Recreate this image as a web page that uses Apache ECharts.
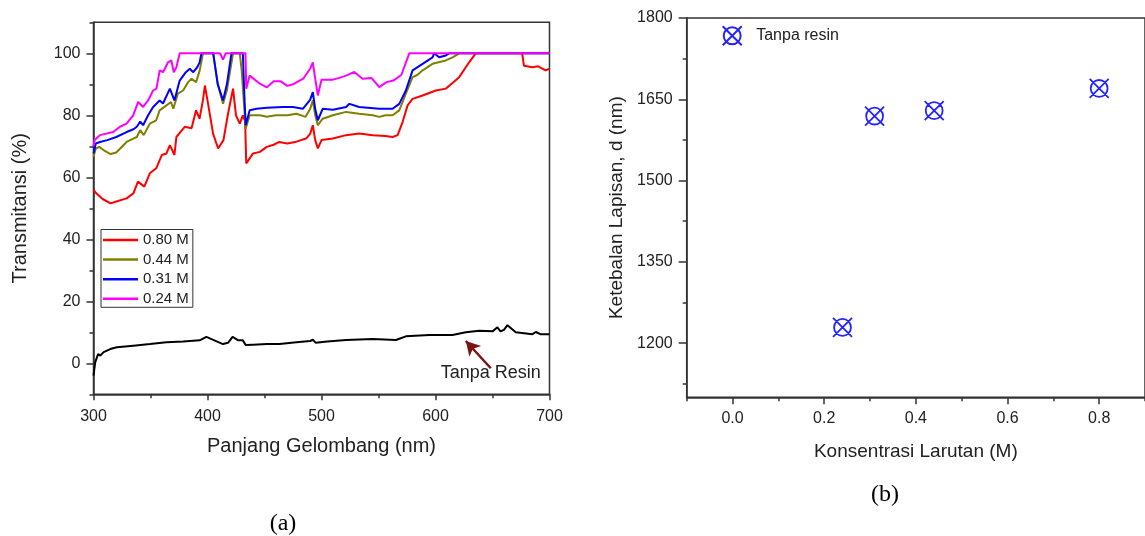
<!DOCTYPE html>
<html><head><meta charset="utf-8">
<script src="https://cdn.jsdelivr.net/npm/echarts@6/dist/echarts.min.js"></script>
<style>html,body{margin:0;padding:0;background:#fff}#c{width:1145px;height:536px}</style>
</head><body><div id="c"></div>
<script>
// ---------- Data: panel (a) transmittance spectra [wavelength nm, %T] ----------
const seriesNamesA = ['0.80 M', '0.44 M', '0.31 M', '0.24 M'];
const red080 = [[300,56],[302,55],[308,53],[315,51.6],[320,52.2],[329,53.2],[335,54.8],[339,58.6],[344.6,57],[349.4,61.3],[355,62.9],[360,67.2],[364,67.7],[367,70.4],[371,67.2],[372.7,73],[376,74.5],[380,76.3],[386,75.8],[390,81.6],[393,78.9],[396,84.8],[397.7,89.6],[400,84.8],[404.9,74.1],[409.3,69.3],[414,72],[418,80.5],[422.4,88.6],[425,80],[428.3,77.3],[431,80],[433,78],[434,64.5],[440,67.7],[446,68.2],[452,69.8],[458,70.5],[463,71.4],[470,70.9],[478,71.5],[486.5,72.5],[490,74],[492.4,76.8],[494.5,72],[496.8,69.3],[500,72],[510,72.5],[521.6,73.6],[533,74.1],[545,73.6],[556,73.3],[562.4,73],[566.8,73.6],[571.2,77.9],[575.5,83.2],[579.9,85.3],[588.7,86.4],[600.3,88],[609,88.6],[620.8,92.3],[629.5,97.1],[635.3,100],[676,100],[677.6,96],[685,95.5],[690,95.8],[696.6,94.5],[700,95]];
const olive044 = [[300,66.6],[302,69.3],[305,69.8],[310,68.5],[315,67.5],[320,68],[329,71.4],[335,72.5],[338,73],[341,75.2],[344,73.6],[349.4,77.3],[355,78.4],[358,81.6],[364,83.2],[368,84.3],[370,82.1],[374,87],[378.6,88],[383,90.7],[386,91.8],[390,90.7],[393.2,94.5],[396,100],[405,100],[409,90],[413.6,83.7],[417,88],[422.4,100],[428.3,100],[430,94.5],[433.5,75.7],[437,80],[446,80],[452,79.5],[460,80],[470,80],[478,80.5],[486,79.5],[490,82],[492.4,84.8],[494.5,80],[496.8,76.8],[501,78.9],[510,80],[521.6,81.1],[533,80.5],[545,80],[550.7,79.5],[556,80],[562.4,80],[568.2,81.6],[574,87],[579.9,92.3],[584,93],[588.7,94.5],[597.4,96.6],[609,97.7],[615,98.7],[620.8,100],[700,100]];
const blue031 = [[300,67.7],[302,70.9],[305.7,71.4],[312,72],[320,73],[329,74.6],[335,75.5],[338,76.3],[341,78],[343.5,76.8],[347.9,80],[352.3,82.7],[358,84.8],[361,83.8],[367,88.6],[371,84.8],[375.6,91.2],[381,93.9],[384.5,95],[387.5,93.9],[391,95.5],[393,97],[394.7,100],[405,100],[409,90],[413.6,84.8],[417,90],[421,100],[431,100],[432.5,85],[433.5,76.8],[437,81.6],[443,82.1],[452,82.4],[466,82.7],[475,82.7],[483.6,82.1],[490,85],[492.4,87.5],[494.5,82],[496.8,78.4],[501,82.1],[510,81.8],[521.6,82.7],[524.5,83.7],[533,82.7],[550.7,82.1],[562.4,82.1],[568.2,83.7],[574,88],[579.9,94.5],[588.7,96.6],[597.4,98.7],[598.8,100],[603.2,98.7],[609,99.3],[612,100],[700,100]];
const magenta024 = [[300,70],[301,72],[305.7,73.6],[317.3,74.6],[323.2,76.3],[329,77.3],[334.8,80],[339.2,84.3],[343.5,82.7],[347.9,84.8],[352.3,88],[355.2,88.6],[358.1,94.5],[361,93.9],[365.4,97.1],[368.3,97.7],[370.4,93.9],[372.7,95.5],[375.6,100],[411,100],[413.6,98],[416,100],[433.3,100],[434,88.6],[437,92.8],[446,90.2],[452,89],[458,91],[464,91],[470,89.5],[475,90],[480,91],[484,91.8],[490,95],[492.4,97.1],[494,93],[496.8,86.4],[500,91.5],[505,91.5],[510,91.5],[515,92],[521.6,92.8],[528.8,94],[536,91.8],[544,92],[550.7,89.1],[557,90.7],[563,91.2],[570,93],[577,100],[700,100]];
const tanpaResin = [[300,-4],[301.5,0.3],[304,3],[306,2.5],[308.9,3.6],[314.7,4.6],[320.5,5.2],[335,5.7],[349.6,6.2],[364,6.8],[378.6,7],[393.2,7.4],[399,8.5],[406,7.4],[413.6,6.2],[418,6.6],[422,8.5],[427,7.4],[431,7.4],[433.5,5.9],[440,6],[452,6.2],[463.2,6.2],[478,6.8],[490,7.2],[492.4,7.6],[495,6.6],[505,7],[521.6,7.5],[545,7.8],[565.3,7.5],[574,8.7],[594.5,9.1],[614.9,9.1],[626.6,10],[638.3,10.5],[650,10.3],[654.3,11.6],[657,10.3],[660,10.8],[663.1,12.3],[670.4,10],[685,9.4],[688,10.1],[692,9.4],[699,9.4],[700,9.4]];
const arrowFrom = [648.5, -1.6];
const arrowTo = [626.6, 7.2];
const annotPos = [648.5, -3.0];
const xTicksA = [300, 400, 500, 600, 700];
const yTicksA = [0, 20, 40, 60, 80, 100];

// ---------- Data: panel (b) thickness vs concentration ----------
const konsentrasi = [0.24, 0.31, 0.44, 0.80];
const ketebalan = [1229, 1619, 1629, 1670];
const xTicksB = [0.0, 0.2, 0.4, 0.6, 0.8];
const yTicksB = [1200, 1350, 1500, 1650, 1800];
const yMinorB = [1125, 1275, 1425, 1575, 1725];

const FONT = '"Liberation Sans", Arial, sans-serif';
const AX = { color: '#333', width: 1.5 };
const TXT = '#222';
const otimesPath = 'path://M0,0L18,18M18,0L0,18M17,9A8,8,0,1,1,1,9A8,8,0,1,1,17,9Z';
const plain = v => String(v);

const chart = echarts.init(document.getElementById('c'), null, { renderer: 'canvas' });
chart.setOption({
  animation: false,
  backgroundColor: '#fff',
  textStyle: { fontFamily: FONT },
  grid: [
    { left: 93.5, top: 22.3, width: 456, height: 372, show: true, borderColor: '#333', borderWidth: 1.5, backgroundColor: 'transparent' },
    { left: 686.7, top: 18, width: 461.5, height: 379.3, show: true, borderColor: '#333', borderWidth: 1.5, backgroundColor: 'transparent' }
  ],
  xAxis: [
    { gridIndex: 0, type: 'value', min: 300, max: 700, interval: 50, position: 'bottom',
      axisLine: { show: true, onZero: false, lineStyle: AX }, axisTick: { show: true, length: 4, lineStyle: AX },
      axisLabel: { show: false }, splitLine: { show: false } },
    { gridIndex: 0, type: 'value', min: 300, max: 700, position: 'bottom',
      axisLine: { show: false, onZero: false }, axisTick: { show: true, length: 6, customValues: xTicksA, lineStyle: AX },
      axisLabel: { show: true, customValues: xTicksA, formatter: plain, fontSize: 16, margin: 14, color: TXT, fontFamily: FONT },
      splitLine: { show: false },
      name: 'Panjang Gelombang (nm)', nameLocation: 'middle', nameGap: 42,
      nameTextStyle: { fontSize: 20, color: TXT, fontFamily: FONT } },
    { gridIndex: 1, type: 'value', min: -0.1, max: 0.9, interval: 0.1, position: 'bottom',
      axisLine: { show: true, onZero: false, lineStyle: AX }, axisTick: { show: true, length: 4, lineStyle: AX },
      axisLabel: { show: false }, splitLine: { show: false } },
    { gridIndex: 1, type: 'value', min: -0.1, max: 0.9, position: 'bottom',
      axisLine: { show: false, onZero: false }, axisTick: { show: true, length: 7, customValues: xTicksB, lineStyle: AX },
      axisLabel: { show: true, customValues: xTicksB, fontSize: 16, margin: 13, color: TXT, fontFamily: FONT,
        formatter: v => Number(v).toFixed(1) },
      splitLine: { show: false },
      name: 'Konsentrasi Larutan (M)', nameLocation: 'middle', nameGap: 45,
      nameTextStyle: { fontSize: 19, color: TXT, fontFamily: FONT } }
  ],
  yAxis: [
    { gridIndex: 0, type: 'value', min: -10, max: 110, interval: 10, position: 'left',
      axisLine: { show: true, onZero: false, lineStyle: AX }, axisTick: { show: true, length: 4, lineStyle: AX },
      axisLabel: { show: false }, splitLine: { show: false } },
    { gridIndex: 0, type: 'value', min: -10, max: 110, position: 'left',
      axisLine: { show: false, onZero: false }, axisTick: { show: true, length: 7, customValues: yTicksA, lineStyle: AX },
      axisLabel: { show: true, customValues: yTicksA, formatter: plain, fontSize: 16, margin: 13, color: TXT, fontFamily: FONT },
      splitLine: { show: false },
      name: 'Transmitansi (%)', nameLocation: 'middle', nameGap: 63, nameRotate: 90,
      nameTextStyle: { fontSize: 20, color: TXT, fontFamily: FONT } },
    { gridIndex: 1, type: 'value', min: 1100, max: 1800, position: 'left',
      axisLine: { show: true, onZero: false, lineStyle: AX }, axisTick: { show: true, length: 4, customValues: yMinorB, lineStyle: AX },
      axisLabel: { show: false }, splitLine: { show: false } },
    { gridIndex: 1, type: 'value', min: 1100, max: 1800, position: 'left',
      axisLine: { show: false, onZero: false }, axisTick: { show: true, length: 8, customValues: yTicksB, lineStyle: AX },
      axisLabel: { show: true, customValues: yTicksB, formatter: plain, fontSize: 16, margin: 14, color: TXT, fontFamily: FONT },
      splitLine: { show: false },
      name: 'Ketebalan Lapisan, d (nm)', nameLocation: 'middle', nameGap: 60, nameRotate: 90,
      nameTextStyle: { fontSize: 19, color: TXT, fontFamily: FONT } }
  ],
  legend: [
    { data: seriesNamesA.map(n => ({ name: n, icon: 'rect' })), orient: 'vertical', left: 101, top: 229.5,
      itemWidth: 35, itemHeight: 2.5, itemGap: 4.6,
      padding: [3, 4, 1, 2], borderColor: '#333', borderWidth: 1, borderRadius: 0,
      textStyle: { fontSize: 15, color: TXT, fontFamily: FONT, lineHeight: 15 } },
    { data: ['Tanpa resin'], left: 721.7, top: 25.3, itemWidth: 38, itemHeight: 19, padding: 0,
      textStyle: { fontSize: 16, color: TXT, fontFamily: FONT } }
  ],
  series: [
    { name: 'Tanpa Resin', type: 'line', xAxisIndex: 0, yAxisIndex: 0, data: tanpaResin, showSymbol: false, symbol: 'none',
      lineStyle: { color: '#000', width: 2 }, itemStyle: { color: '#000' }, z: 2,
      markLine: { silent: true, symbol: ['none', 'arrow'], symbolSize: [12, 14],
        lineStyle: { color: '#7d1414', width: 2.5, type: 'solid' }, itemStyle: { color: '#7d1414' }, label: { show: false },
        data: [[{ coord: arrowFrom }, { coord: arrowTo }]] },
      markPoint: { silent: true, symbol: 'rect', symbolSize: [1, 1], itemStyle: { color: 'rgba(0,0,0,0)' },
        label: { show: true, position: 'inside', formatter: 'Tanpa Resin', fontSize: 18, color: TXT, fontFamily: FONT },
        data: [{ coord: annotPos }] } },
    { name: seriesNamesA[0], type: 'line', xAxisIndex: 0, yAxisIndex: 0, data: red080, showSymbol: false, symbol: 'none',
      lineStyle: { color: '#ff0000', width: 2 }, itemStyle: { color: '#ff0000' }, z: 3 },
    { name: seriesNamesA[1], type: 'line', xAxisIndex: 0, yAxisIndex: 0, data: olive044, showSymbol: false, symbol: 'none',
      lineStyle: { color: '#808000', width: 2 }, itemStyle: { color: '#808000' }, z: 4 },
    { name: seriesNamesA[2], type: 'line', xAxisIndex: 0, yAxisIndex: 0, data: blue031, showSymbol: false, symbol: 'none',
      lineStyle: { color: '#0000ff', width: 2 }, itemStyle: { color: '#0000ff' }, z: 5 },
    { name: seriesNamesA[3], type: 'line', xAxisIndex: 0, yAxisIndex: 0, data: magenta024, showSymbol: false, symbol: 'none',
      lineStyle: { color: '#ff00ff', width: 2 }, itemStyle: { color: '#ff00ff' }, z: 6 },
    { name: 'Tanpa resin', type: 'scatter', xAxisIndex: 2, yAxisIndex: 2,
      data: konsentrasi.map((k, i) => [k, ketebalan[i]]),
      symbol: otimesPath, symbolSize: 19,
      itemStyle: { color: 'rgba(0,0,0,0)', borderColor: '#2424ff', borderWidth: 1.8, opacity: 1 } }
  ],
  graphic: [
    { type: 'text', x: 283, y: 524, style: { text: '(a)', font: '24px "Liberation Serif", "Times New Roman", serif', fill: '#000', textAlign: 'center', textVerticalAlign: 'middle' } },
    { type: 'text', x: 885, y: 495, style: { text: '(b)', font: '24px "Liberation Serif", "Times New Roman", serif', fill: '#000', textAlign: 'center', textVerticalAlign: 'middle' } }
  ]
});
</script></body></html>
